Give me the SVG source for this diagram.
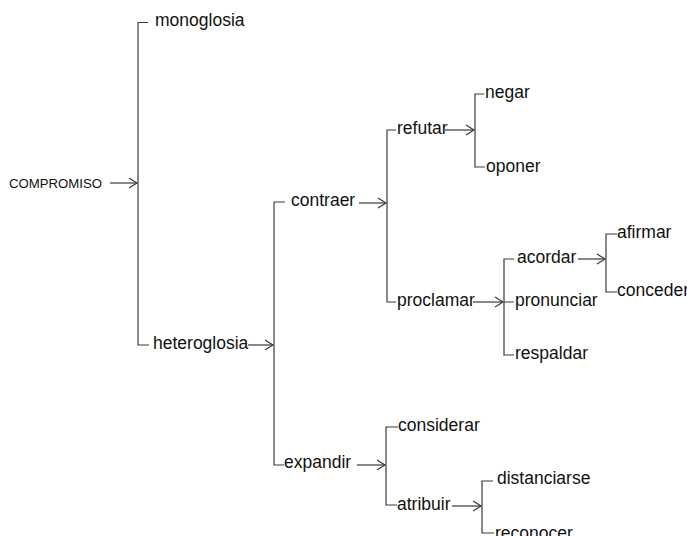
<svg xmlns="http://www.w3.org/2000/svg" width="687" height="536" viewBox="0 0 687 536">
<defs>
<style>
.t{font-family:"Liberation Sans",Arial,sans-serif;font-size:17.5px;fill:#111}
.s{font-family:"Liberation Sans",Arial,sans-serif;font-size:13.2px;fill:#111}
.l{fill:none;stroke:#3a3a3a;stroke-width:1.2}
.a{fill:none;stroke:#3a3a3a;stroke-width:1.2;marker-end:url(#ah)}
</style>
<marker id="ah" markerUnits="userSpaceOnUse" markerWidth="12" markerHeight="14" viewBox="-9 -7 12 14" refX="0" refY="0" orient="auto">
<path d="M-8,-5 L0,0 L-8,5" fill="none" stroke="#3a3a3a" stroke-width="1.2"/>
</marker>
</defs>
<rect width="687" height="536" fill="#fff"/>
<g id="connectors">
<path class="a" d="M110,183 H137"/>
<path class="l" d="M148,22.5 H138 V345 H149"/>
<path class="a" d="M248,345 H273"/>
<path class="l" d="M285,202 H274 V465 H284"/>
<path class="a" d="M359,203 H386"/>
<path class="a" d="M357,465 H385"/>
<path class="l" d="M396,130 H387 V302 H396"/>
<path class="a" d="M445,130 H474"/>
<path class="a" d="M473,302 H503"/>
<path class="l" d="M484,94 H475 V167 H485"/>
<path class="l" d="M514,259 H504 V355 H514 M504,302 H514"/>
<path class="a" d="M578,259 H605"/>
<path class="l" d="M617,234 H606 V292 H617"/>
<path class="l" d="M398,427 H386 V505 H397"/>
<path class="a" d="M452,506 H481"/>
<path class="l" d="M493,481 H482 V533 H494"/>
</g>
<g id="compromiso"><text class="s" x="9" y="188">COMPROMISO</text></g>
<g id="monoglosia"><text class="t" x="155" y="26">monoglosia</text></g>
<g id="heteroglosia"><text class="t" x="153" y="349">heteroglosia</text></g>
<g id="contraer"><text class="t" x="291" y="206">contraer</text></g>
<g id="expandir"><text class="t" x="284" y="468">expandir</text></g>
<g id="refutar"><text class="t" x="397" y="134">refutar</text></g>
<g id="proclamar"><text class="t" x="397" y="306">proclamar</text></g>
<g id="negar"><text class="t" x="485" y="98">negar</text></g>
<g id="oponer"><text class="t" x="486" y="172">oponer</text></g>
<g id="acordar"><text class="t" x="517" y="263">acordar</text></g>
<g id="pronunciar"><text class="t" x="515" y="306">pronunciar</text></g>
<g id="respaldar"><text class="t" x="515" y="359">respaldar</text></g>
<g id="afirmar"><text class="t" x="617" y="238">afirmar</text></g>
<g id="conceder"><text class="t" x="617" y="296">conceder</text></g>
<g id="considerar"><text class="t" x="398" y="431">considerar</text></g>
<g id="atribuir"><text class="t" x="397" y="510">atribuir</text></g>
<g id="distanciarse"><text class="t" x="497" y="484">distanciarse</text></g>
<g id="reconocer"><text class="t" x="495" y="539">reconocer</text></g>
</svg>
